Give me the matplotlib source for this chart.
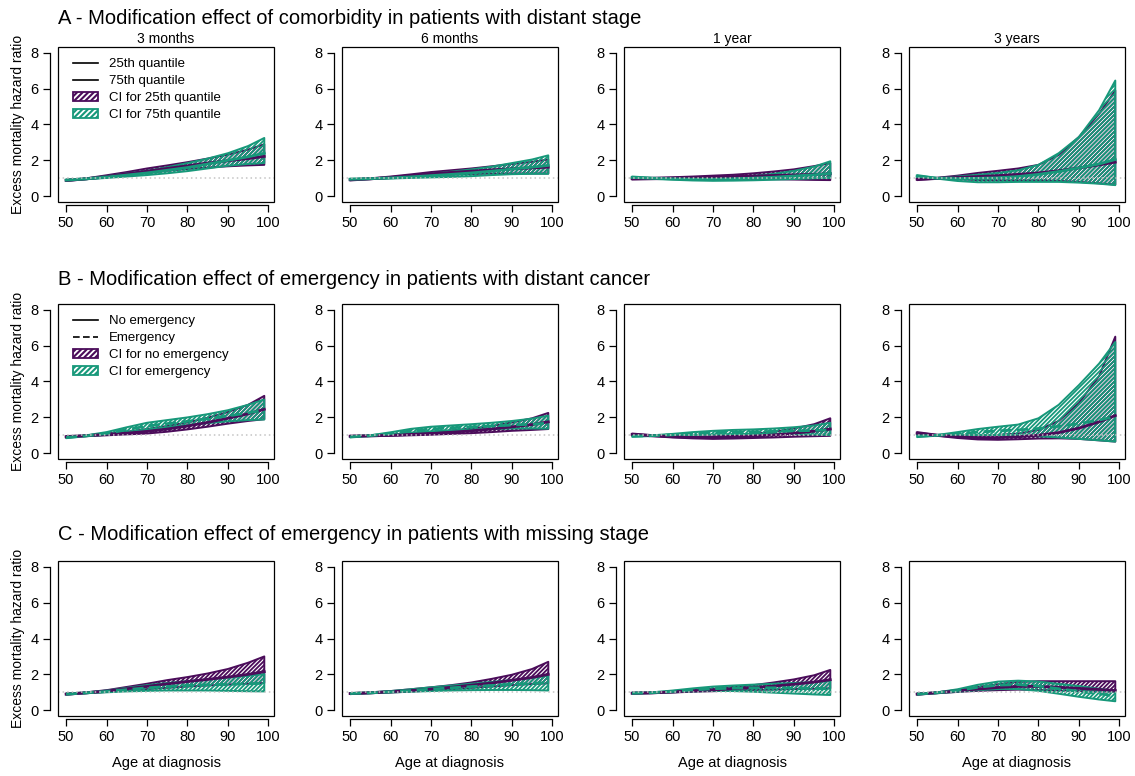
import matplotlib
matplotlib.use("Agg")
import matplotlib.pyplot as plt
from matplotlib.patches import Patch, Rectangle
from matplotlib.lines import Line2D
from matplotlib.legend_handler import HandlerTuple

plt.rcParams['font.family'] = ['Liberation Sans', 'DejaVu Sans']
plt.rcParams['hatch.linewidth'] = 1.3

PURPLE = '#4b0c5a'
GREEN = '#17987a'
HATCH = '////////'

age = [50, 55, 60, 65, 70, 75, 80, 85, 90, 95, 99]

row_titles = ["A - Modification effect of comorbidity in patients with distant stage",
              "B - Modification effect of emergency in patients with distant cancer",
              "C - Modification effect of emergency in patients with missing stage"]
col_titles = ["3 months", "6 months", "1 year", "3 years"]

# ---- row A (purple = 25th quantile, green = 75th quantile)
a1_p_est = [0.88, 0.97, 1.10, 1.25, 1.40, 1.55, 1.70, 1.85, 1.98, 2.10, 2.22]
a1_p_lo = [0.85, 0.95, 1.05, 1.18, 1.30, 1.42, 1.52, 1.60, 1.67, 1.72, 1.75]
a1_p_hi = [0.92, 1.00, 1.17, 1.35, 1.55, 1.72, 1.90, 2.10, 2.32, 2.60, 2.90]
a1_g_est = [0.90, 0.97, 1.07, 1.18, 1.30, 1.45, 1.60, 1.80, 2.00, 2.20, 2.40]
a1_g_lo = [0.87, 0.95, 1.02, 1.10, 1.18, 1.28, 1.40, 1.55, 1.70, 1.80, 1.85]
a1_g_hi = [0.93, 1.00, 1.12, 1.27, 1.42, 1.62, 1.85, 2.10, 2.40, 2.80, 3.25]

a2_p_est = [0.92, 0.97, 1.05, 1.15, 1.25, 1.33, 1.40, 1.47, 1.53, 1.58, 1.62]
a2_p_lo = [0.88, 0.95, 1.02, 1.08, 1.15, 1.20, 1.24, 1.26, 1.27, 1.27, 1.27]
a2_p_hi = [0.95, 1.00, 1.10, 1.22, 1.35, 1.45, 1.55, 1.67, 1.80, 1.92, 2.05]
a2_g_est = [0.95, 0.98, 1.02, 1.08, 1.15, 1.22, 1.30, 1.40, 1.52, 1.62, 1.72]
a2_g_lo = [0.92, 0.96, 0.99, 1.02, 1.05, 1.08, 1.12, 1.18, 1.23, 1.25, 1.25]
a2_g_hi = [0.98, 1.00, 1.05, 1.13, 1.25, 1.37, 1.50, 1.65, 1.85, 2.05, 2.28]

a3_p_est = [0.98, 0.99, 1.01, 1.04, 1.07, 1.10, 1.13, 1.16, 1.19, 1.22, 1.25]
a3_p_lo = [0.93, 0.95, 0.97, 0.98, 0.98, 0.97, 0.96, 0.95, 0.93, 0.91, 0.90]
a3_p_hi = [1.02, 1.03, 1.06, 1.10, 1.15, 1.20, 1.28, 1.38, 1.50, 1.68, 1.85]
a3_g_est = [1.05, 1.00, 0.97, 0.95, 0.95, 0.97, 1.01, 1.06, 1.13, 1.20, 1.27]
a3_g_lo = [1.00, 0.97, 0.92, 0.88, 0.86, 0.87, 0.89, 0.92, 0.96, 1.00, 1.02]
a3_g_hi = [1.10, 1.03, 1.01, 1.02, 1.05, 1.08, 1.14, 1.25, 1.42, 1.65, 1.95]

a4_p_est = [0.95, 1.00, 1.05, 1.10, 1.15, 1.22, 1.30, 1.42, 1.58, 1.75, 1.90]
a4_p_lo = [0.90, 0.97, 0.95, 0.90, 0.88, 0.88, 0.88, 0.86, 0.80, 0.72, 0.65]
a4_p_hi = [1.00, 1.03, 1.15, 1.30, 1.42, 1.55, 1.75, 2.30, 3.30, 4.60, 5.90]
a4_g_est = [1.12, 1.00, 0.98, 1.00, 1.03, 1.10, 1.22, 1.38, 1.58, 1.80, 2.05]
a4_g_lo = [1.05, 0.98, 0.85, 0.78, 0.78, 0.80, 0.80, 0.80, 0.76, 0.70, 0.62]
a4_g_hi = [1.18, 1.02, 1.10, 1.20, 1.30, 1.45, 1.75, 2.40, 3.30, 4.80, 6.45]

# ---- row B (purple = no emergency, green = emergency)
b1_p_est = [0.92, 0.98, 1.05, 1.12, 1.22, 1.35, 1.52, 1.72, 1.95, 2.20, 2.45]
b1_p_lo = [0.88, 0.95, 1.00, 1.05, 1.10, 1.20, 1.33, 1.48, 1.65, 1.80, 1.90]
b1_p_hi = [0.96, 1.00, 1.10, 1.20, 1.35, 1.52, 1.72, 1.98, 2.30, 2.70, 3.20]
b1_g_est = [0.88, 0.97, 1.10, 1.32, 1.52, 1.65, 1.78, 1.92, 2.08, 2.25, 2.40]
b1_g_lo = [0.84, 0.95, 1.03, 1.18, 1.32, 1.45, 1.57, 1.68, 1.78, 1.85, 1.88]
b1_g_hi = [0.92, 1.00, 1.18, 1.45, 1.70, 1.85, 2.00, 2.18, 2.40, 2.70, 3.00]

b2_p_est = [0.95, 0.97, 1.00, 1.05, 1.10, 1.17, 1.25, 1.35, 1.47, 1.60, 1.75]
b2_p_lo = [0.92, 0.95, 0.97, 1.00, 1.03, 1.08, 1.12, 1.18, 1.25, 1.30, 1.35]
b2_p_hi = [0.98, 1.00, 1.04, 1.10, 1.18, 1.27, 1.38, 1.52, 1.72, 1.95, 2.25]
b2_g_est = [0.92, 0.98, 1.10, 1.25, 1.35, 1.42, 1.47, 1.52, 1.57, 1.62, 1.68]
b2_g_lo = [0.88, 0.96, 1.03, 1.15, 1.22, 1.28, 1.32, 1.35, 1.38, 1.38, 1.37]
b2_g_hi = [0.96, 1.00, 1.17, 1.36, 1.48, 1.55, 1.62, 1.70, 1.80, 1.93, 2.10]

b3_p_est = [1.05, 0.98, 0.92, 0.88, 0.87, 0.90, 0.95, 1.02, 1.12, 1.23, 1.35]
b3_p_lo = [1.00, 0.95, 0.88, 0.83, 0.80, 0.82, 0.85, 0.88, 0.92, 0.95, 0.97]
b3_p_hi = [1.10, 1.01, 0.96, 0.94, 0.95, 1.00, 1.08, 1.20, 1.38, 1.62, 1.95]
b3_g_est = [0.95, 0.98, 1.03, 1.10, 1.15, 1.18, 1.20, 1.22, 1.25, 1.27, 1.30]
b3_g_lo = [0.92, 0.96, 0.98, 1.02, 1.05, 1.07, 1.08, 1.08, 1.07, 1.05, 1.02]
b3_g_hi = [0.98, 1.00, 1.08, 1.18, 1.25, 1.30, 1.33, 1.38, 1.45, 1.55, 1.70]

b4_p_est = [1.12, 1.00, 0.92, 0.87, 0.87, 0.92, 1.00, 1.15, 1.40, 1.75, 2.10]
b4_p_lo = [1.05, 0.97, 0.85, 0.77, 0.75, 0.78, 0.82, 0.83, 0.80, 0.72, 0.65]
b4_p_hi = [1.18, 1.03, 1.00, 1.00, 1.02, 1.10, 1.30, 1.80, 2.80, 4.30, 6.50]
b4_g_est = [0.95, 1.00, 1.08, 1.18, 1.25, 1.30, 1.38, 1.50, 1.65, 1.85, 2.05]
b4_g_lo = [0.90, 0.98, 1.00, 1.02, 1.02, 1.00, 0.95, 0.88, 0.80, 0.72, 0.65]
b4_g_hi = [1.00, 1.02, 1.18, 1.35, 1.48, 1.60, 1.95, 2.70, 3.80, 5.00, 6.20]

# ---- row C (purple = no emergency, green = emergency)
c1_p_est = [0.90, 0.97, 1.07, 1.20, 1.33, 1.47, 1.60, 1.72, 1.85, 2.00, 2.15]
c1_p_lo = [0.87, 0.95, 1.02, 1.10, 1.18, 1.25, 1.32, 1.38, 1.43, 1.48, 1.52]
c1_p_hi = [0.93, 1.00, 1.12, 1.30, 1.48, 1.68, 1.85, 2.05, 2.30, 2.65, 3.00]
c1_g_est = [0.90, 0.97, 1.05, 1.15, 1.25, 1.32, 1.38, 1.42, 1.45, 1.48, 1.50]
c1_g_lo = [0.87, 0.95, 1.00, 1.05, 1.08, 1.10, 1.10, 1.10, 1.08, 1.06, 1.05]
c1_g_hi = [0.93, 1.00, 1.10, 1.25, 1.40, 1.52, 1.62, 1.72, 1.82, 1.92, 2.02]

c2_p_est = [0.93, 0.97, 1.03, 1.10, 1.18, 1.28, 1.40, 1.52, 1.67, 1.83, 2.00]
c2_p_lo = [0.90, 0.95, 0.99, 1.04, 1.10, 1.17, 1.25, 1.32, 1.40, 1.46, 1.50]
c2_p_hi = [0.96, 1.00, 1.07, 1.17, 1.28, 1.40, 1.55, 1.75, 1.98, 2.30, 2.70]
c2_g_est = [0.93, 0.97, 1.03, 1.10, 1.18, 1.25, 1.32, 1.38, 1.45, 1.50, 1.55]
c2_g_lo = [0.90, 0.95, 0.99, 1.03, 1.07, 1.10, 1.12, 1.13, 1.13, 1.12, 1.10]
c2_g_hi = [0.96, 1.00, 1.07, 1.17, 1.28, 1.38, 1.48, 1.58, 1.68, 1.80, 1.92]

c3_p_est = [0.95, 0.97, 1.02, 1.08, 1.13, 1.20, 1.27, 1.35, 1.45, 1.57, 1.70]
c3_p_lo = [0.92, 0.95, 0.99, 1.03, 1.06, 1.10, 1.13, 1.15, 1.18, 1.20, 1.22]
c3_p_hi = [0.98, 1.00, 1.05, 1.13, 1.20, 1.30, 1.40, 1.55, 1.72, 1.95, 2.25]
c3_g_est = [0.95, 0.98, 1.05, 1.13, 1.20, 1.23, 1.25, 1.25, 1.24, 1.22, 1.20]
c3_g_lo = [0.92, 0.96, 1.00, 1.05, 1.08, 1.07, 1.03, 0.98, 0.93, 0.88, 0.85]
c3_g_hi = [0.98, 1.00, 1.10, 1.22, 1.32, 1.38, 1.43, 1.48, 1.52, 1.57, 1.62]

c4_p_est = [0.90, 0.98, 1.08, 1.18, 1.27, 1.33, 1.33, 1.28, 1.22, 1.16, 1.10]
c4_p_lo = [0.87, 0.95, 1.02, 1.08, 1.12, 1.15, 1.13, 1.10, 1.07, 1.05, 1.03]
c4_p_hi = [0.93, 1.00, 1.13, 1.30, 1.45, 1.58, 1.62, 1.62, 1.62, 1.62, 1.62]
c4_g_est = [0.90, 0.98, 1.10, 1.28, 1.40, 1.43, 1.35, 1.20, 1.05, 0.92, 0.80]
c4_g_lo = [0.87, 0.95, 1.03, 1.12, 1.18, 1.18, 1.08, 0.92, 0.75, 0.60, 0.50]
c4_g_hi = [0.93, 1.00, 1.17, 1.42, 1.60, 1.65, 1.60, 1.47, 1.35, 1.20, 1.08]

panels = [
    [(a1_p_est, a1_p_lo, a1_p_hi, a1_g_est, a1_g_lo, a1_g_hi),
     (a2_p_est, a2_p_lo, a2_p_hi, a2_g_est, a2_g_lo, a2_g_hi),
     (a3_p_est, a3_p_lo, a3_p_hi, a3_g_est, a3_g_lo, a3_g_hi),
     (a4_p_est, a4_p_lo, a4_p_hi, a4_g_est, a4_g_lo, a4_g_hi)],
    [(b1_p_est, b1_p_lo, b1_p_hi, b1_g_est, b1_g_lo, b1_g_hi),
     (b2_p_est, b2_p_lo, b2_p_hi, b2_g_est, b2_g_lo, b2_g_hi),
     (b3_p_est, b3_p_lo, b3_p_hi, b3_g_est, b3_g_lo, b3_g_hi),
     (b4_p_est, b4_p_lo, b4_p_hi, b4_g_est, b4_g_lo, b4_g_hi)],
    [(c1_p_est, c1_p_lo, c1_p_hi, c1_g_est, c1_g_lo, c1_g_hi),
     (c2_p_est, c2_p_lo, c2_p_hi, c2_g_est, c2_g_lo, c2_g_hi),
     (c3_p_est, c3_p_lo, c3_p_hi, c3_g_est, c3_g_lo, c3_g_hi),
     (c4_p_est, c4_p_lo, c4_p_hi, c4_g_est, c4_g_lo, c4_g_hi)],
]

legend_labels = [["25th quantile", "75th quantile", "CI for 25th quantile", "CI for 75th quantile"],
                 ["No emergency", "Emergency", "CI for no emergency", "CI for emergency"]]

W, H = 1135, 776
fig = plt.figure(figsize=(W / 100, H / 100), dpi=100)

col_left = [58, 342, 624, 909]
row_top = [47, 304, 561]
bw, bh = 216, 155
title_y = [18, 279, 535]


def hatch_handle(col):
    # coloured box with white stripes and a coloured border, as in the legend
    return (Patch(facecolor=col, edgecolor='white', hatch='//////', lw=0),
            Patch(facecolor='none', edgecolor=col, lw=1.3))


for r in range(3):
    fig.text(col_left[0] / W, 1 - title_y[r] / H, row_titles[r], fontsize=14.5,
             ha='left', va='center')
    for c in range(4):
        ax = fig.add_axes([col_left[c] / W, 1 - (row_top[r] + bh) / H, bw / W, bh / H])
        p_est, p_lo, p_hi, g_est, g_lo, g_hi = panels[r][c]
        ax.fill_between(age, p_lo, p_hi, facecolor='none', edgecolor=PURPLE,
                        hatch=HATCH, lw=1.4, zorder=2)
        ax.fill_between(age, g_lo, g_hi, facecolor='none', edgecolor=GREEN,
                        hatch=HATCH, lw=1.4, zorder=3)
        ax.plot(age, p_est, color=PURPLE, lw=2.0, zorder=4)
        g_ls = '-' if r == 0 else (0, (4, 2))
        ax.plot(age, g_est, color=GREEN, lw=2.0, ls=g_ls, zorder=5)
        ax.axhline(1, color='#c4c4c4', lw=1.1, ls=(0, (1, 2)), zorder=6)

        ax.set_xlim(48.0, 101.4)
        ax.set_ylim(-0.32, 8.32)
        ax.set_xticks([50, 60, 70, 80, 90, 100])
        ax.set_yticks([0, 2, 4, 6, 8])
        ax.tick_params(labelsize=10.5, length=5, width=0.9, pad=3)
        for s in ['top', 'right']:
            ax.spines[s].set_visible(False)
        ax.spines['left'].set_position(('outward', 6))
        ax.spines['left'].set_bounds(0, 8)
        ax.spines['bottom'].set_position(('outward', 2))
        ax.spines['bottom'].set_bounds(50, 100)
        for s in ['left', 'bottom']:
            ax.spines[s].set_linewidth(0.9)
        ax.add_patch(Rectangle((0, 0), 1, 1, transform=ax.transAxes, fill=False,
                               lw=0.9, ec='black', clip_on=False, zorder=10))

        if r == 0:
            ax.text(0.5, 1.008, col_titles[c], transform=ax.transAxes,
                    ha='center', va='bottom', fontsize=10)
        if c == 0:
            fig.text(18 / W, 1 - (row_top[r] + bh / 2) / H, "Excess mortality hazard ratio",
                     rotation=90, ha='center', va='center', fontsize=10)
        if r == 2:
            fig.text((col_left[c] + bw / 2) / W, 1 - 763 / H, "Age at diagnosis",
                     ha='center', va='center', fontsize=10.5)
        if c == 0 and r < 2:
            labs = legend_labels[r]
            ls2 = '-' if r == 0 else (0, (4, 2))
            handles = [Line2D([], [], color='black', lw=1.2),
                       Line2D([], [], color='black', lw=1.2, ls=ls2),
                       hatch_handle(PURPLE), hatch_handle(GREEN)]
            ax.legend(handles, labs, loc='upper left', bbox_to_anchor=(0.04, 0.97),
                      frameon=False, fontsize=9.5, handlelength=1.9, handletextpad=0.8,
                      labelspacing=0.35, borderpad=0,
                      handler_map={tuple: HandlerTuple(ndivide=1, pad=0)})

fig.savefig("out.png", dpi=100)
